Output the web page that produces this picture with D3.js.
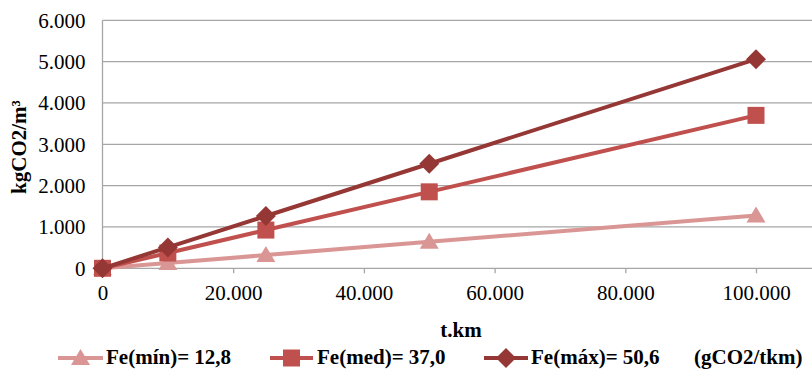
<!DOCTYPE html>
<html>
<head>
<meta charset="utf-8">
<script src="https://cdn.jsdelivr.net/npm/d3@7"></script>
<style>
  html, body { margin: 0; padding: 0; background: #fff; }
  svg { display: block; }
</style>
</head>
<body>
<svg id="chart" width="812" height="369"></svg>
<script>
// Transport distance (t.km)
const distances = [0, 10000, 25000, 50000, 100000];

// Emissions (kgCO2/m³) for each emission factor
const seriesNames = ["Fe(mín)= 12,8", "Fe(med)= 37,0", "Fe(máx)= 50,6"];
const valuesMin = [0, 128, 320, 640, 1280];
const valuesMed = [0, 370, 925, 1850, 3700];
const valuesMax = [0, 506, 1265, 2530, 5060];

const xTicks = [0, 20000, 40000, 60000, 80000, 100000];
const yTicks = [0, 1000, 2000, 3000, 4000, 5000, 6000];
const unitLabel = "(gCO2/tkm)";

const series = [
  { name: seriesNames[0], values: valuesMin, color: "#D99694", marker: "triangle" },
  { name: seriesNames[1], values: valuesMed, color: "#C0504D", marker: "square" },
  { name: seriesNames[2], values: valuesMax, color: "#953735", marker: "diamond" }
];

const FONT = "'Liberation Serif', 'Times New Roman', serif";
const svg = d3.select("#chart");
const fmt = v => d3.format(",")(v).replace(/,/g, ".");

const x = d3.scaleLinear().domain([0, 100000]).range([102.5, 756]);
const y = d3.scaleLinear().domain([0, 6000]).range([268.3, 20.3]);

// Horizontal gridlines
svg.append("g").selectAll("line").data(yTicks.slice(1)).join("line")
  .attr("x1", x(0)).attr("x2", 812)
  .attr("y1", d => y(d)).attr("y2", d => y(d))
  .attr("stroke", "#A6A6A6").attr("stroke-width", 1.3);

// Y axis line
svg.append("line")
  .attr("x1", x(0)).attr("x2", x(0)).attr("y1", y(6000)).attr("y2", y(0))
  .attr("stroke", "#A6A6A6").attr("stroke-width", 1.3);

// X axis with downward ticks
const xAxis = svg.append("g").attr("transform", `translate(0,${y(0)})`)
  .call(d3.axisBottom(x).tickValues(xTicks).tickFormat(fmt).tickSize(5).tickPadding(12).tickSizeOuter(0));
xAxis.select(".domain").remove();
xAxis.append("line").attr("x1", x(0)).attr("x2", 812).attr("stroke", "#A6A6A6").attr("stroke-width", 1.3);
xAxis.selectAll(".tick line").attr("stroke", "#A6A6A6").attr("stroke-width", 1.3);
xAxis.selectAll(".tick text").attr("font-size", 21).attr("fill", "#000");
xAxis.selectAll(".tick").filter(d => d === 0).select("line").remove();

// Y axis labels
const yAxis = svg.append("g").attr("transform", `translate(${x(0)},0)`)
  .call(d3.axisLeft(y).tickValues(yTicks).tickFormat(fmt).tickSize(0).tickPadding(17));
yAxis.select(".domain").remove();
yAxis.selectAll(".tick text").attr("font-size", 21).attr("fill", "#000");

// Axis titles
svg.append("text").attr("x", 461).attr("y", 337).attr("text-anchor", "middle")
  .attr("font-size", 21).attr("font-weight", "bold").text("t.km");
svg.append("text").attr("transform", "translate(26,147) rotate(-90)").attr("text-anchor", "middle")
  .attr("font-size", 21).attr("font-weight", "bold").text("kgCO2/m³");

// Marker shapes: triangle, square and a square-proportioned diamond
const markerPath = type => {
  if (type === "triangle") return "M0,-9L9.5,7L-9.5,7Z";
  if (type === "square") return "M-8.5,-8.5H8.5V8.5H-8.5Z";
  return "M0,-10L10,0L0,10L-10,0Z";
};

const line = d3.line().x((d, i) => x(distances[i])).y(d => y(d));

series.forEach(s => {
  const g = svg.append("g");
  g.append("path").datum(s.values).attr("d", line)
    .attr("fill", "none").attr("stroke", s.color).attr("stroke-width", 4);
  g.selectAll("path.m").data(s.values).join("path").attr("class", "m")
    .attr("d", markerPath(s.marker))
    .attr("transform", (d, i) => `translate(${x(distances[i])},${y(d)})`)
    .attr("fill", s.color);
});

// Legend
const legendY = 358;
const legendItems = [
  { s: series[0], x0: 58, x1: 103, tx: 106 },
  { s: series[1], x0: 270, x1: 313, tx: 317 },
  { s: series[2], x0: 484, x1: 528, tx: 531 }
];
legendItems.forEach(it => {
  const g = svg.append("g");
  g.append("line").attr("x1", it.x0).attr("x2", it.x1).attr("y1", legendY).attr("y2", legendY)
    .attr("stroke", it.s.color).attr("stroke-width", 4);
  g.append("path").attr("d", markerPath(it.s.marker))
    .attr("transform", `translate(${(it.x0 + it.x1) / 2},${legendY})`)
    .attr("fill", it.s.color);
  g.append("text").attr("x", it.tx).attr("y", 364).attr("font-size", 21).attr("font-weight", "bold")
    .text(it.s.name);
});
svg.append("text").attr("x", 694).attr("y", 364).attr("font-size", 21).attr("font-weight", "bold")
  .text(unitLabel);

// Serif typeface throughout
svg.selectAll("text").style("font-family", FONT);
</script>
</body>
</html>
